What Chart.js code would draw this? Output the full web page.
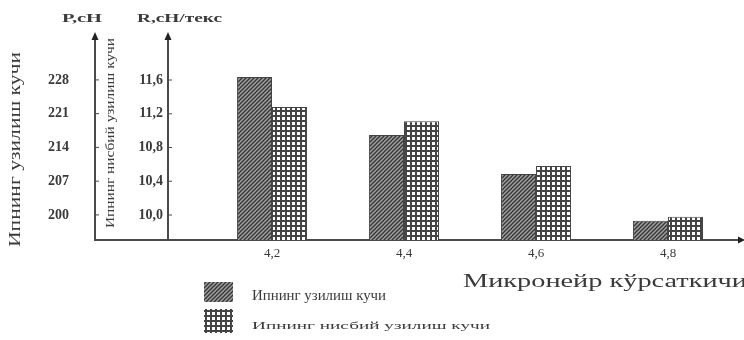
<!DOCTYPE html>
<html>
<head>
<meta charset="utf-8">
<script src="https://cdn.jsdelivr.net/npm/chart.js@4"></script>
<style>
  html, body { margin: 0; padding: 0; background: #fff; }
  #wrap { width: 744px; height: 340px; }
</style>
</head>
<body>
<div id="wrap"><canvas id="myChart" width="744" height="340"></canvas></div>
<script>
// micronaire values (x) and their labels
const micronaire = [4.2, 4.4, 4.6, 4.8];
const micronaireLabels = ["4,2", "4,4", "4,6", "4,8"];
// breaking force P, cN
const breakForce = [228.6, 216.6, 208.5, 198.8];
// relative breaking force R, cN/tex
const relForce = [11.28, 11.11, 10.58, 9.98];
// tick labels of the two y axes
const pTicks = [200, 207, 214, 221, 228];
const rTicks = [10.0, 10.4, 10.8, 11.2, 11.6];

const seriesNames = ["Ипнинг узилиш кучи", "Ипнинг нисбий узилиш кучи"];
const pTitle = "Ипнинг узилиш кучи";
const rTitle = "Ипнинг нисбий узилиш кучи";
const xTitle = "Микронейр кўрсаткичи";
const pUnit = "Р,сН";
const rUnit = "R,сН/текс";

const SERIF = "'Liberation Serif', 'DejaVu Serif', serif";
const INK = "#3a3a3a";

function hatchPattern() {
  const c = document.createElement("canvas");
  c.width = 4; c.height = 4;
  const g = c.getContext("2d");
  g.fillStyle = "#a0a0a0";
  g.fillRect(0, 0, 4, 4);
  g.strokeStyle = "#333";
  g.lineWidth = 1.3;
  g.beginPath();
  g.moveTo(0, 4); g.lineTo(4, 0);
  g.moveTo(-1, 1); g.lineTo(1, -1);
  g.moveTo(3, 5); g.lineTo(5, 3);
  g.stroke();
  return g.createPattern(c, "repeat");
}

function gridPattern() {
  const c = document.createElement("canvas");
  c.width = 5; c.height = 5;
  const g = c.getContext("2d");
  g.fillStyle = "#fff";
  g.fillRect(0, 0, 5, 5);
  g.fillStyle = "#444";
  g.fillRect(0, 0, 2, 5);
  g.fillRect(0, 0, 5, 2);
  return g.createPattern(c, "repeat");
}

const hatch = hatchPattern();
const grid = gridPattern();

// text squeezed/stretched to a given width
function fitText(ctx, text, x, y, width, font, rotate) {
  ctx.save();
  ctx.font = font;
  ctx.fillStyle = INK;
  ctx.textBaseline = "middle";
  ctx.textAlign = "left";
  const w = ctx.measureText(text).width;
  ctx.translate(x, y);
  if (rotate) ctx.rotate(-Math.PI / 2);
  ctx.scale(width / w, 1);
  ctx.fillText(text, 0, 0);
  ctx.restore();
}

const decor = {
  id: "decor",
  afterDraw(chart) {
    const ctx = chart.ctx;
    const area = chart.chartArea;
    const p = chart.scales.p, r = chart.scales.r;
    const pX = p.right, rX = r.right, baseY = area.bottom;

    ctx.save();
    ctx.strokeStyle = "#4a4a4a";
    ctx.lineWidth = 2;
    // baseline under the left axes
    ctx.beginPath();
    ctx.moveTo(pX - 1, baseY);
    ctx.lineTo(rX, baseY);
    ctx.stroke();
    // small inner ticks
    ctx.lineWidth = 1;
    pTicks.forEach(v => {
      const y = p.getPixelForValue(v);
      ctx.beginPath(); ctx.moveTo(pX, y); ctx.lineTo(pX + 4, y); ctx.stroke();
    });
    rTicks.forEach(v => {
      const y = r.getPixelForValue(v);
      ctx.beginPath(); ctx.moveTo(rX, y); ctx.lineTo(rX + 4, y); ctx.stroke();
    });
    // arrow heads
    ctx.fillStyle = "#222";
    [pX, rX].forEach(x => {
      ctx.beginPath();
      ctx.moveTo(x, area.top - 5);
      ctx.lineTo(x - 3.5, area.top + 3);
      ctx.lineTo(x + 3.5, area.top + 3);
      ctx.closePath();
      ctx.fill();
    });
    ctx.beginPath();
    ctx.moveTo(area.right + 3, baseY);
    ctx.lineTo(area.right - 4, baseY - 3.5);
    ctx.lineTo(area.right - 4, baseY + 3.5);
    ctx.closePath();
    ctx.fill();
    ctx.restore();

    // units at the top of the axes
    fitText(ctx, pUnit, 62, 19, 40, "bold 12px " + SERIF);
    fitText(ctx, rUnit, 137, 19, 85, "bold 12px " + SERIF);
    // rotated axis titles
    fitText(ctx, pTitle, 16, 247, 195, "16px " + SERIF, true);
    fitText(ctx, rTitle, 111, 228, 190, "13px " + SERIF, true);
    // x axis title
    fitText(ctx, xTitle, 463, 282, 284, "18px " + SERIF);

    // legend
    const sw = [[204, 282, 29, 20, hatch], [204, 309, 29, 24, grid]];
    sw.forEach(([x, y, w, h, f]) => {
      ctx.save();
      ctx.fillStyle = f;
      ctx.fillRect(x, y, w, h);
      ctx.restore();
    });
    fitText(ctx, seriesNames[0], 252, 296, 134, "14px " + SERIF);
    fitText(ctx, seriesNames[1], 252, 326, 238, "11px " + SERIF);
  }
};

const ctx = document.getElementById("myChart").getContext("2d");
new Chart(ctx, {
  type: "bar",
  data: {
    datasets: [
      {
        label: seriesNames[0],
        data: micronaire.map((m, i) => ({ x: m, y: breakForce[i] })),
        yAxisID: "p",
        backgroundColor: hatch,
        borderColor: "#444",
        borderWidth: 1,
        borderSkipped: "bottom"
      },
      {
        label: seriesNames[1],
        data: micronaire.map((m, i) => ({ x: m, y: relForce[i] })),
        yAxisID: "r",
        backgroundColor: grid,
        borderColor: "#444",
        borderWidth: 1,
        borderSkipped: "bottom"
      }
    ]
  },
  options: {
    responsive: false,
    animation: false,
    events: [],
    layout: { padding: { top: 37, right: 2, bottom: 48, left: 0 } },
    datasets: { bar: { categoryPercentage: 0.53, barPercentage: 1.0 } },
    plugins: { legend: { display: false }, tooltip: { enabled: false } },
    scales: {
      x: {
        type: "linear",
        offset: false,
        min: 4.0424,
        max: 4.9121,
        afterFit: s => { s.height = 52; },
        afterBuildTicks: s => { s.ticks = micronaire.map(v => ({ value: v })); },
        grid: { display: false, drawTicks: false, offset: false },
        border: { display: true, color: "#4a4a4a", width: 2 },
        ticks: {
          padding: 6,
          color: INK,
          font: { family: SERIF, size: 13 },
          callback: v => micronaireLabels[micronaire.indexOf(Math.round(v * 10) / 10)] || ""
        }
      },
      p: {
        position: "left",
        weight: 1,
        min: 194.8,
        max: 236.9,
        afterFit: s => { s.width = 95; },
        afterBuildTicks: s => { s.ticks = pTicks.map(v => ({ value: v })); },
        grid: { display: false, drawTicks: false },
        border: { display: true, color: "#4a4a4a", width: 2 },
        ticks: {
          padding: 26,
          color: INK,
          font: { family: SERIF, size: 14, weight: "bold" }
        }
      },
      r: {
        position: "left",
        weight: 0,
        min: 9.704,
        max: 12.11,
        afterFit: s => { s.width = 73; },
        afterBuildTicks: s => { s.ticks = rTicks.map(v => ({ value: v })); },
        grid: { display: false, drawTicks: false },
        border: { display: true, color: "#4a4a4a", width: 2 },
        ticks: {
          padding: 5,
          color: INK,
          font: { family: SERIF, size: 14, weight: "bold" },
          callback: v => v.toFixed(1).replace(".", ",")
        }
      }
    }
  },
  plugins: [decor]
});
</script>
</body>
</html>
